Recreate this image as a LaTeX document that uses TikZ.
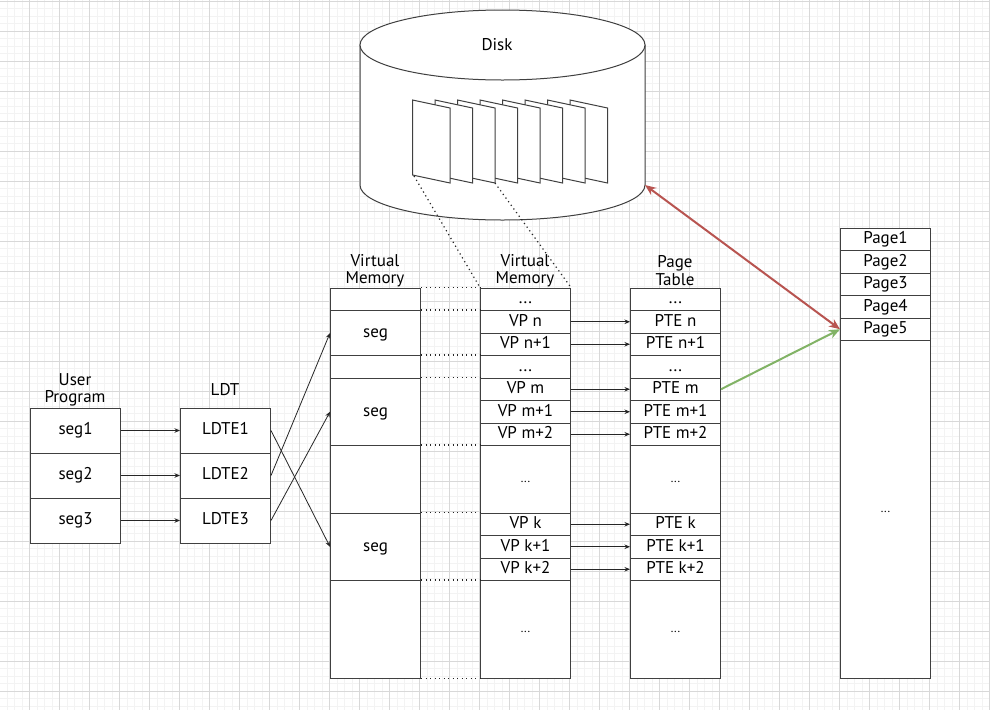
\documentclass[tikz,border=0pt]{standalone}
\usepackage{fontspec}
\setmainfont{PT Sans}
\usetikzlibrary{arrows.meta}
\definecolor{strokec}{HTML}{404040}
\definecolor{gridmaj}{HTML}{D8D8D8}
\definecolor{gridmin}{HTML}{F3F3F3}
\definecolor{redc}{HTML}{B85450}
\definecolor{greenc}{HTML}{82B366}
\begin{document}
\begin{tikzpicture}[x=1pt,y=-1pt,
  cell/.style={draw=strokec, line width=1pt, fill=white, minimum width=90pt, inner sep=0pt,
    anchor=north west, text height=12pt, text depth=3.5pt, font=\fontsize{17}{18}\selectfont},
  bigdots/.style={font=\fontsize{12}{13}\selectfont, text height=8pt, text depth=2pt},
  lbl/.style={align=center, inner sep=0pt, font=\fontsize{17}{17.5}\selectfont},
  arr/.style={-{Stealth[length=5.5pt,width=4.5pt]}, line width=0.8pt, draw=black!85},
  dotline/.style={draw=black!85, line width=1.2pt, dash pattern=on 1.2pt off 3.3pt},
  pagesh/.style={draw=strokec, line width=1pt, fill=white},
  redarr/.style={{Stealth[length=11pt,width=9pt]}-{Stealth[length=11pt,width=9pt]}, line width=2pt, draw=redc},
  greenarr/.style={-{Stealth[length=11pt,width=9pt]}, line width=2pt, draw=greenc}]

% background and grid
\fill[white] (0,0) rectangle (990,710);
\useasboundingbox (0,0) rectangle (990,710);
\foreach \k in {0,...,132} { \draw[gridmin, line width=1pt] ({-0.5+7.5*\k},0) -- ({-0.5+7.5*\k},710); }
\foreach \k in {0,...,94} { \draw[gridmin, line width=1pt] (0,{1+7.5*\k}) -- (990,{1+7.5*\k}); }
\foreach \k in {0,...,33} { \draw[gridmaj, line width=1pt] ({-0.5+30*\k},0) -- ({-0.5+30*\k},710); }
\foreach \k in {0,...,23} { \draw[gridmaj, line width=1pt] (0,{1+30*\k}) -- (990,{1+30*\k}); }

% disk cylinder
\filldraw[draw=strokec, line width=1pt, fill=white]
  (360,45) -- (360,185) arc[start angle=180, end angle=360, x radius=142.5pt, y radius=35pt] -- (645,45) -- cycle;
\filldraw[draw=strokec, line width=1pt, fill=white] (502.5,45) ellipse[x radius=142.5pt, y radius=35pt];
\node[lbl] (disklabel) at (497,45) {Disk};
\coordinate (diskport) at (645,185);
% pages inside disk
\foreach \i in {7,6,...,0} {
  \filldraw[pagesh] ({412.5+22.5*\i},100) -- ({450+22.5*\i},108) -- ({450+22.5*\i},183) -- ({412.5+22.5*\i},175) -- cycle;
}
\coordinate (pgA) at (414,176);
\coordinate (pgB) at (495,183);

% labels
\node[lbl] (ulab) at (75,390) {User\\Program};
\node[lbl] (llab) at (225,390) {LDT};
\node[lbl] (vmlab1) at (375,270.5) {Virtual\\Memory};
\node[lbl] (vmlab2) at (525,270.5) {Virtual\\Memory};
\node[lbl] (ptlab) at (675,270.5) {Page\\Table};

% user program
\node[cell, minimum height=45pt] (u1) at (30,407.5) {seg1};
\node[cell, minimum height=45pt] (u2) at (30,452.5) {seg2};
\node[cell, minimum height=45pt] (u3) at (30,497.5) {seg3};
% LDT
\node[cell, minimum height=45pt] (l1) at (180,407.5) {LDTE1};
\node[cell, minimum height=45pt] (l2) at (180,452.5) {LDTE2};
\node[cell, minimum height=45pt] (l3) at (180,497.5) {LDTE3};

% virtual memory (segments)
\node[cell, minimum height=22.5pt] (vl0) at (330,287.5) {};
\node[cell, minimum height=45pt] (vl1) at (330,310) {seg};
\node[cell, minimum height=22.5pt] (vl2) at (330,355) {};
\node[cell, minimum height=67.5pt] (vl3) at (330,377.5) {seg};
\node[cell, minimum height=67.5pt] (vl4) at (330,445) {};
\node[cell, minimum height=67.5pt] (vl5) at (330,512.5) {seg};
\node[cell, minimum height=97.5pt] (vl6) at (330,580) {};

% virtual memory (pages)
\node[cell, minimum height=22.5pt] (vr0) at (480,287.5) {...};
\node[cell, minimum height=22.5pt] (vr1) at (480,310) {VP n};
\node[cell, minimum height=22.5pt] (vr2) at (480,332.5) {VP n+1};
\node[cell, minimum height=22.5pt] (vr3) at (480,355) {...};
\node[cell, minimum height=22.5pt] (vr4) at (480,377.5) {VP m};
\node[cell, minimum height=22.5pt] (vr5) at (480,400) {VP m+1};
\node[cell, minimum height=22.5pt] (vr6) at (480,422.5) {VP m+2};
\node[cell, bigdots, minimum height=67.5pt] (vr7) at (480,445) {...};
\node[cell, minimum height=22.5pt] (vr8) at (480,512.5) {VP k};
\node[cell, minimum height=22.5pt] (vr9) at (480,535) {VP k+1};
\node[cell, minimum height=22.5pt] (vr10) at (480,557.5) {VP k+2};
\node[cell, bigdots, minimum height=97.5pt] (vr11) at (480,580) {...};

% page table
\node[cell, minimum height=22.5pt] (pt0) at (630,287.5) {...};
\node[cell, minimum height=22.5pt] (pt1) at (630,310) {PTE n};
\node[cell, minimum height=22.5pt] (pt2) at (630,332.5) {PTE n+1};
\node[cell, minimum height=22.5pt] (pt3) at (630,355) {...};
\node[cell, minimum height=22.5pt] (pt4) at (630,377.5) {PTE m};
\node[cell, minimum height=22.5pt] (pt5) at (630,400) {PTE m+1};
\node[cell, minimum height=22.5pt] (pt6) at (630,422.5) {PTE m+2};
\node[cell, bigdots, minimum height=67.5pt] (pt7) at (630,445) {...};
\node[cell, minimum height=22.5pt] (pt8) at (630,512.5) {PTE k};
\node[cell, minimum height=22.5pt] (pt9) at (630,535) {PTE k+1};
\node[cell, minimum height=22.5pt] (pt10) at (630,557.5) {PTE k+2};
\node[cell, bigdots, minimum height=97.5pt] (pt11) at (630,580) {...};

% physical pages
\node[cell, minimum height=22.5pt] (pg1) at (840,227.5) {Page1};
\node[cell, minimum height=22.5pt] (pg2) at (840,250) {Page2};
\node[cell, minimum height=22.5pt] (pg3) at (840,272.5) {Page3};
\node[cell, minimum height=22.5pt] (pg4) at (840,295) {Page4};
\node[cell, minimum height=22.5pt] (pg5) at (840,317.5) {Page5};
\node[cell, bigdots, minimum height=337.5pt] (pg6) at (840,340) {...};

% dotted correspondences
\draw[dotline] (pgA) -- (vr0.north west);
\draw[dotline] (pgB) -- (vr0.north east);
\foreach \a/\b in {vl0/vr0, vl1/vr1, vl2/vr3, vl3/vr4, vl4/vr7, vl5/vr8, vl6/vr11} {
  \draw[dotline] (\a.north east) -- (\b.north west);
}
\draw[dotline] (vl6.south east) -- (vr11.south west);

% arrows
\draw[arr] (u1.east) -- (l1.west);
\draw[arr] (u2.east) -- (l2.west);
\draw[arr] (u3.east) -- (l3.west);
\draw[arr] (l1.east) -- (vl5.west);
\draw[arr] (l2.east) -- (vl1.west);
\draw[arr] (l3.east) -- (vl3.west);
\foreach \i in {1,2,4,5,6,8,9,10} {
  \draw[arr] (vr\i.east) -- (pt\i.west);
}
\draw[redarr] (diskport) -- (pg5.west);
\draw[greenarr] (pt4.east) -- (pg5.west);
\end{tikzpicture}
\end{document}
